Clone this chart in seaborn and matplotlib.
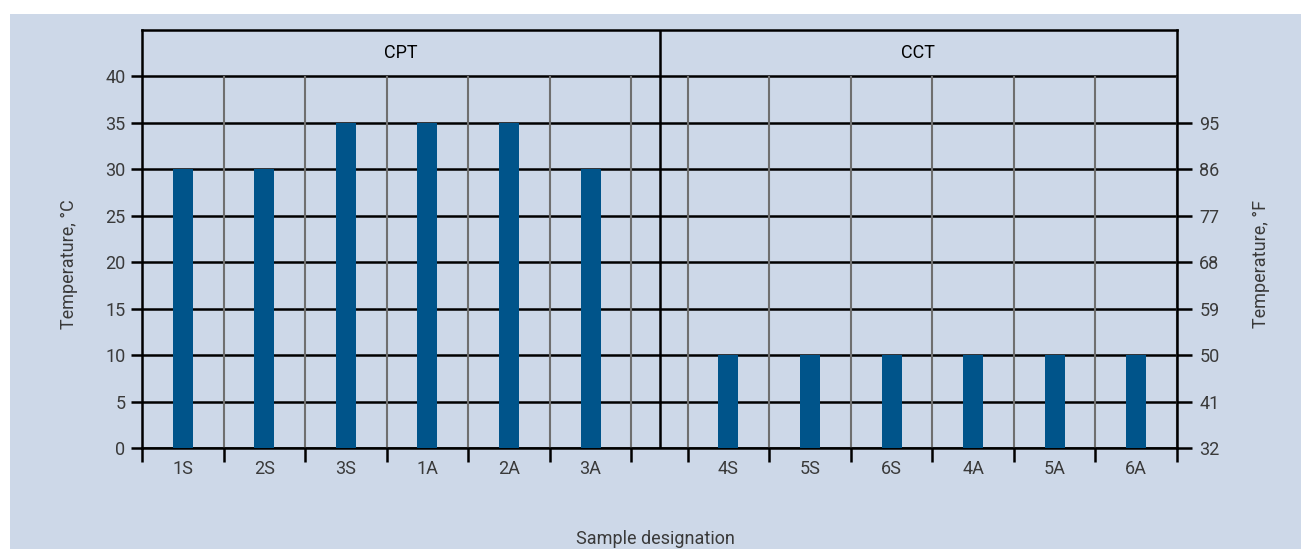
import matplotlib.pyplot as plt
import numpy as np
import pandas as pd
import seaborn as sns
from matplotlib.patches import Rectangle

samples = ["1S", "2S", "3S", "1A", "2A", "3A", "4S", "5S", "6S", "4A", "5A", "6A"]
tests = ["CPT"] * 6 + ["CCT"] * 6
temperature_c = [30, 30, 35, 35, 35, 30, 10, 10, 10, 10, 10, 10]
celsius_ticks = [0, 5, 10, 15, 20, 25, 30, 35, 40]
fahrenheit_ticks = [0, 5, 10, 15, 20, 25, 30, 35]
fahrenheit_labels = ["32", "41", "50", "59", "68", "77", "86", "95"]

GAP = 0.69
BG = "#CDD8E8"
BAR = "#00548A"
TEXT = "#3a3a3a"

df = pd.DataFrame({"sample": samples, "test": tests, "temp": temperature_c})
in_cct = (df["test"] == "CCT").astype(int)
df["pos"] = np.arange(len(df)) + 0.5 + in_cct * GAP

n_cpt = (df["test"] == "CPT").sum()
n_cct = (df["test"] == "CCT").sum()
boundaries = list(range(n_cpt + 1)) + [n_cpt + GAP + i for i in range(n_cct + 1)]
x_max = n_cpt + GAP + n_cct
divider = n_cpt + GAP / 2

sns.set_theme(style="white")
plt.rcParams["font.family"] = ["Roboto", "DejaVu Sans"]
plt.rcParams["text.color"] = TEXT
plt.rcParams["axes.labelcolor"] = TEXT
plt.rcParams["xtick.color"] = "black"
plt.rcParams["ytick.color"] = "black"

fig = plt.figure(figsize=(13.01, 5.49), dpi=100, facecolor="white")
fig.add_artist(Rectangle((10 / 1301, 0), 1, 1 - 14 / 549, transform=fig.transFigure,
                         facecolor=BG, edgecolor="none", zorder=-10))

ax = fig.add_axes([142 / 1301, 1 - 448 / 549, 1035 / 1301, 418 / 549])
ax.set_facecolor("none")

sns.barplot(data=df, x="pos", y="temp", native_scale=True, width=0.245,
            color=BAR, saturation=1, errorbar=None, linewidth=0, ax=ax, zorder=3)

ax.hlines(celsius_ticks, 0, x_max, color="black", lw=1.8, zorder=1)
ax.vlines(boundaries, 0, 40, color="#6f6f6f", lw=1.5, zorder=1)
ax.axvline(divider, color="black", lw=1.8, zorder=2)

ax.set_xlim(0, x_max)
ax.set_ylim(0, 45)
for s in ax.spines.values():
    s.set_color("black")
    s.set_linewidth(1.8)

ax.set_xticks(boundaries)
ax.set_xticklabels([])
ax.set_xticks(df["pos"], minor=True)
ax.set_xticklabels(samples, minor=True)
ax.tick_params(axis="x", which="major", direction="out", length=10, width=1.8, bottom=True)
ax.tick_params(axis="x", which="minor", length=0, pad=9, labelsize=13, labelcolor=TEXT)

ax.set_yticks(celsius_ticks)
ax.set_yticklabels([str(v) for v in celsius_ticks])
ax.tick_params(axis="y", direction="out", length=8, width=1.8, left=True, pad=4,
               labelsize=13, labelcolor=TEXT)

ax.set_xlabel("Sample designation", fontsize=13)
ax.xaxis.set_label_coords(0.496, -0.196)
ax.set_ylabel("Temperature, °C", fontsize=13)
ax.yaxis.set_label_coords(-0.062, 0.44)

for name, lo, hi in [("CPT", 0, divider), ("CCT", divider, x_max)]:
    ax.text((lo + hi) / 2, 42.5, name, ha="center", va="center", fontsize=13, color="black")

ax2 = ax.twinx()
ax2.set_ylim(0, 45)
ax2.set_yticks(fahrenheit_ticks)
ax2.set_yticklabels(fahrenheit_labels)
ax2.tick_params(axis="y", direction="out", length=11, width=1.8, right=True, pad=5,
                labelsize=13, labelcolor=TEXT)
for s in ax2.spines.values():
    s.set_visible(False)
ax2.set_ylabel("Temperature, °F", fontsize=13)
ax2.yaxis.set_label_coords(1.072, 0.44)

fig.savefig("out.png", dpi=100, facecolor="white")
plt.close(fig)
